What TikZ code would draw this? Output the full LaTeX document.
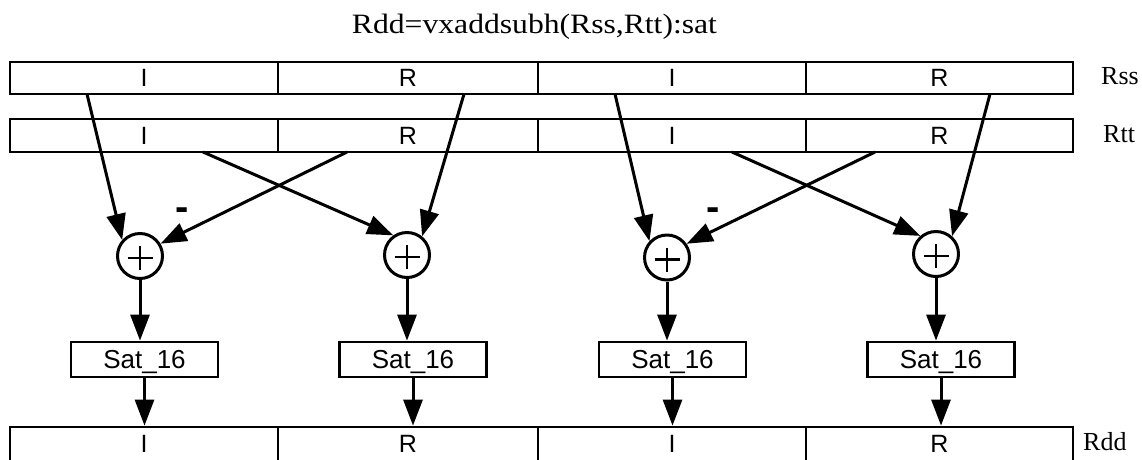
\documentclass[tikz,border=0pt]{standalone}
\usepackage{fontspec}
\usepackage{graphicx}
\setmainfont{Liberation Serif}
\newfontfamily\arialf{Liberation Sans}
\usetikzlibrary{arrows.meta,calc}
\begin{document}
\begin{tikzpicture}[x=1pt,y=-1pt,
  reg/.style={draw, line width=2.8pt, inner sep=0pt, font=\arialf\fontsize{25}{30}\selectfont, text depth=0pt},
  adder/.style={draw, circle, line width=3pt, minimum size=45pt, inner sep=0pt,
    path picture={\draw[line width=2.6pt]
      ($(path picture bounding box.center)+(-12.5pt,-2pt)$) -- ++(25pt,0pt)
      ($(path picture bounding box.center)+(0pt,10pt)$) -- ++(0pt,-24pt);}},
  satbox/.style={draw, line width=2.8pt, minimum width=147pt, minimum height=35pt, inner sep=0pt,
    font=\arialf\fontsize{26}{30}\selectfont, text depth=0pt},
  arr/.style={line width=3pt, -{Triangle[length=26pt,width=19pt]}},
  minus/.style={font=\arialf\bfseries\fontsize{40}{40}\selectfont, inner sep=0pt, anchor=base},
  lbl/.style={font=\fontsize{26}{30}\selectfont, inner sep=0pt, anchor=base west}
]
\useasboundingbox (0,0) rectangle (1142,459);

\node[font=\fontsize{28}{32}\selectfont, inner sep=0pt, anchor=base] (title) at (534.5,33) {\scalebox{1.13}[1]{Rdd=vxaddsubh(Rss,Rtt):sat}};

% registers
\node[reg, minimum width=268pt, minimum height=32pt] (rss1) at (144,78) {I};
\node[reg, minimum width=260pt, minimum height=32pt] (rss2) at (408,78) {R};
\node[reg, minimum width=268pt, minimum height=32pt] (rss3) at (672,78) {I};
\node[reg, minimum width=267pt, minimum height=32pt] (rss4) at (939.5,78) {R};

\node[reg, minimum width=268pt, minimum height=33pt] (rtt1) at (144,135.5) {I};
\node[reg, minimum width=260pt, minimum height=33pt] (rtt2) at (408,135.5) {R};
\node[reg, minimum width=268pt, minimum height=33pt] (rtt3) at (672,135.5) {I};
\node[reg, minimum width=267pt, minimum height=33pt] (rtt4) at (939.5,135.5) {R};

\node[reg, minimum width=268pt, minimum height=34pt] (rdd1) at (144,444) {I};
\node[reg, minimum width=260pt, minimum height=34pt] (rdd2) at (408,444) {R};
\node[reg, minimum width=268pt, minimum height=34pt] (rdd3) at (672,444) {I};
\node[reg, minimum width=267pt, minimum height=34pt] (rdd4) at (939.5,444) {R};

\node[lbl] (lrss) at (1101,84) {Rss};
\node[lbl] (lrtt) at (1103,142) {Rtt};
\node[lbl] (lrdd) at (1083,450) {Rdd};

% adders
\node[adder] (add1) at (140,256) {};
\node[adder] (add2) at (407,255) {};
\node[adder] (add3) at (667,257.5) {};
\node[adder] (add4) at (936,254) {};

% saturation boxes
\node[satbox] (sat1) at (144.5,359.5) {Sat\_16};
\node[satbox] (sat2) at (413,359.5) {Sat\_16};
\node[satbox] (sat3) at (672.5,359.5) {Sat\_16};
\node[satbox] (sat4) at (941,359.5) {Sat\_16};

% start points
\coordinate (s1) at (87,94);
\coordinate (s2) at (464,94);
\coordinate (t1) at (203,152);
\coordinate (t2) at (347,152);
\coordinate (s3) at (615,94);
\coordinate (s4) at (990,94);
\coordinate (t3) at (732,152);
\coordinate (t4) at (875,152);

\draw[arr] (s1) -- (add1.138);
\draw[arr] (t2) -- (add1.31);
\draw[arr] (t1) -- (add2.125);
\draw[arr] (s2) -- (add2.51);
\draw[arr] (s3) -- (add3.137);
\draw[arr] (t4) -- (add3.35);
\draw[arr] (t3) -- (add4.131);
\draw[arr] (s4) -- (add4.48);

\node[minus] (m1) at (182,220) {-};
\node[minus] (m2) at (713,220) {-};

\foreach \i in {1,2,3,4}{
  \draw[arr] (add\i.south) -- (add\i.south |- sat\i.north);
  \draw[arr] (sat\i.south) -- (sat\i.south |- rdd\i.north);
}
\end{tikzpicture}
\end{document}
